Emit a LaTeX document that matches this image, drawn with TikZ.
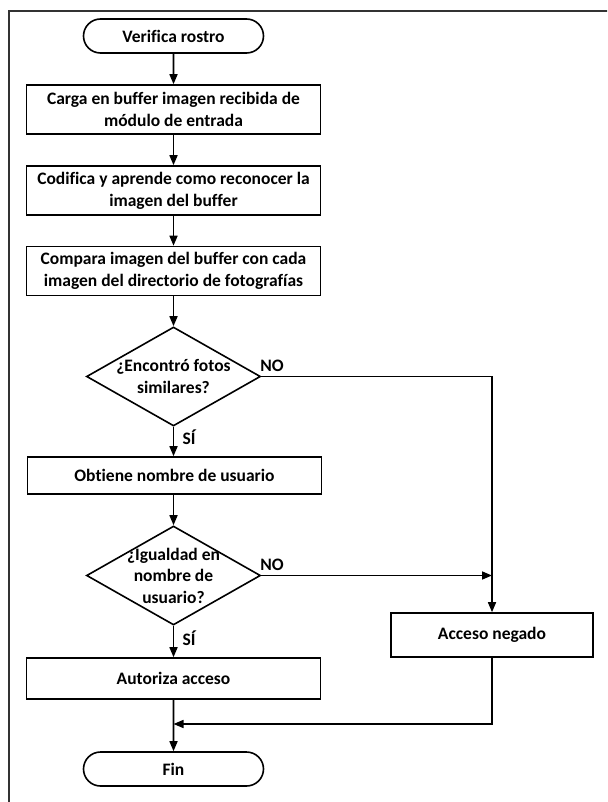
\documentclass[tikz,border=0pt]{standalone}
\usepackage{fontspec}
\setmainfont{Carlito}[Ligatures=NoCommon]
\usetikzlibrary{shapes.geometric,shapes.misc,arrows.meta}
\begin{document}
\begin{tikzpicture}[x=1pt,y=-1pt,
  base/.style={draw=black, line width=1.6pt, font=\bfseries\fontsize{17.5}{22}\selectfont, align=center, inner sep=0pt},
  term/.style={base, rounded rectangle, minimum width=180pt, minimum height=34pt},
  proc/.style={base, rectangle, minimum width=294pt, minimum height=49pt},
  dec/.style={base, diamond, minimum width=174pt, minimum height=99pt},
  dectext/.style={font=\bfseries\fontsize{17.5}{21.5}\selectfont, align=center, inner sep=0pt},
  lbl/.style={font=\bfseries\fontsize{17.5}{20}\selectfont, inner sep=0pt},
  arr/.style={-{Triangle[length=10pt,width=8pt]}, line width=1.6pt},
  frame/.style={draw=black!80, line width=1.8pt}]
\useasboundingbox (0,0) rectangle (607,802);
\clip (0,0) rectangle (607,802);
\fill[white] (0,0) rectangle (607,802);
\draw[frame] (9,11) rectangle (625,820);

\node[term] (start) at (173.5,36) {Verifica rostro};
\node[proc] (b1) at (173.5,109.5) {Carga en buffer imagen recibida de\\módulo de entrada};
\node[proc] (b2) at (173.5,190.5) {Codifica y aprende como reconocer la\\imagen del buffer};
\node[proc] (b3) at (173.5,271) {Compara imagen del buffer con cada\\imagen del directorio de fotografías};
\node[dec, label={[dectext]center:{¿Encontró fotos\\similares?}}] (d1) at (173.5,376.5) {};
\node[proc, minimum height=37pt] (b4) at (174.5,475.5) {Obtiene nombre de usuario};
\node[dec, label={[dectext]center:{¿Igualdad en\\nombre de\\usuario?}}] (d2) at (173.5,575.5) {};
\node[proc, minimum height=41pt] (b5) at (173.5,678.5) {Autoriza acceso};
\node[proc, minimum width=202pt, minimum height=44pt] (acc) at (492,635) {Acceso negado};
\node[term] (fin) at (173.5,769) {Fin};
\coordinate (m) at (173.5,724);

\node[lbl] (no1) at (272,366) {NO};
\node[lbl] (si1) at (189,437) {SÍ};
\node[lbl] (no2) at (272,565) {NO};
\node[lbl] (si2) at (189,638) {SÍ};

\draw[arr] (start) -- (b1);
\draw[arr] (b1) -- (b2);
\draw[arr] (b2) -- (b3);
\draw[arr] (b3) -- (d1);
\draw[arr] (d1) -- (b4.north -| d1.south);
\draw[arr] (b4.south -| d2.north) -- (d2);
\draw[arr] (d2) -- (b5);
\draw[arr] (b5) -- (fin);
\draw[arr] (d1.east) -- (d1.east -| acc.north) -- (acc.north);
\draw[arr] (d2.east) -- (d2.east -| acc.north);
\draw[arr] (acc.south) |- (m);
\end{tikzpicture}
\end{document}
